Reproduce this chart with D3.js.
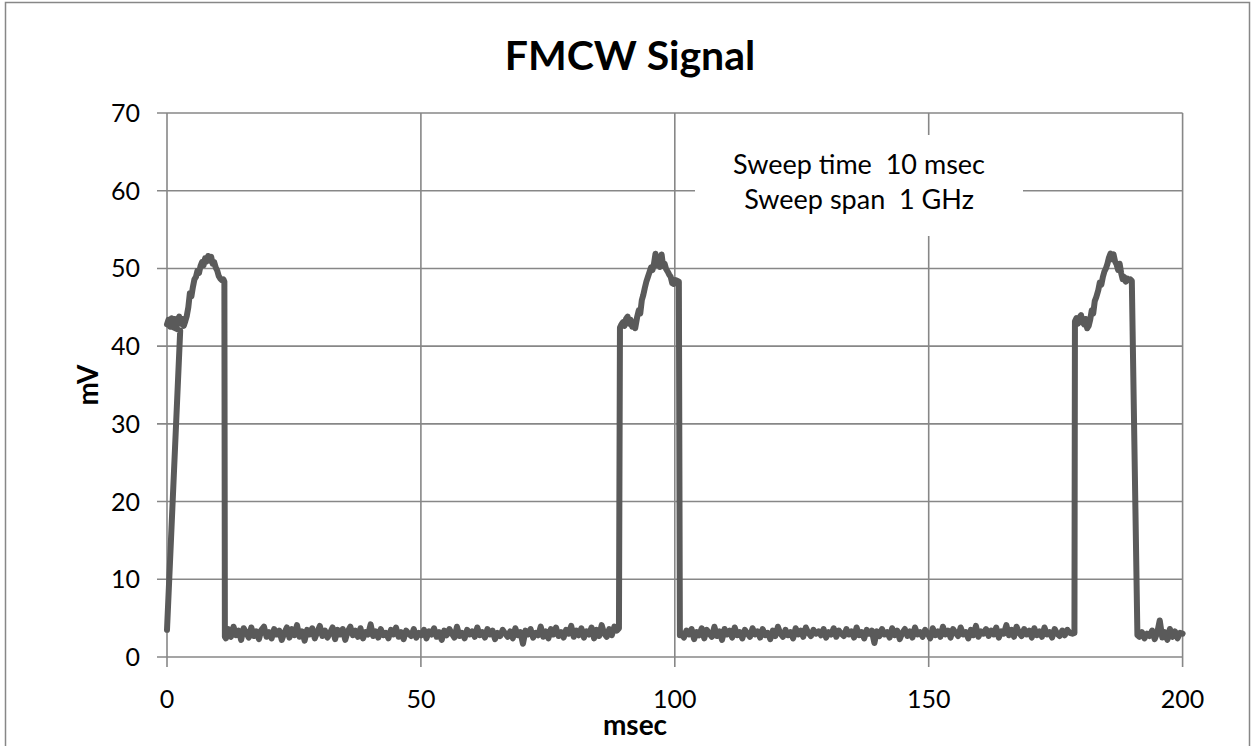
<!DOCTYPE html>
<html><head><meta charset="utf-8">
<script src="https://cdn.jsdelivr.net/npm/d3@7"></script>
<style>body{margin:0;background:#fff} svg{display:block} text{font-family:Lato,"Noto Sans",sans-serif;fill:#000}</style>
</head><body><svg id="c" width="1254" height="746"></svg>
<script>
const title = "FMCW Signal";
const xLabel = "msec";
const yLabel = "mV";
const noteLines = ["Sweep time  10 msec", "Sweep span  1 GHz"];
const xTicks = [0, 50, 100, 150, 200];
const yTicks = [0, 10, 20, 30, 40, 50, 60, 70];

// Pulse 1 (explicit samples: time msec, value mV)
const pulse1T = [0, 2.6, 0.0,0.3,0.6,0.9,1.2,1.5,1.8,2.1,2.4,2.7,3.0,3.3,3.6,3.9,
  4.2,4.5,4.8,5.1,5.4,5.7,6.0,6.3,6.6,6.9,7.2,7.5,7.8,8.1,8.4,8.7,9.0,9.3,9.6,9.9,10.2,10.5,10.8,11.1,11.3,11.4];
const pulse1V = [3.5, 42.0, 42.8,43.4,42.5,43.6,42.7,43.5,42.4,43.3,43.8,42.9,43.5,42.6,43.2,43.9,
  45.0,46.8,46.4,47.6,48.6,48.9,49.7,49.4,50.3,50.8,50.4,51.3,50.9,51.6,51.0,51.5,50.6,50.8,50.1,49.7,49.0,48.7,48.5,48.6,48.3,2.6];

// Baseline noise after pulse 1: starts 11.6 msec, one sample every 0.5 msec
const noise1Start = 11.6;
const noise1 = [
  2.4,3.6,2.6,3.9,2.8,3.4,2.2,3.7,3.1,2.5,3.8,2.7,3.3,2.3,3.5,3.9,2.6,3.2,2.4,3.6,
  2.9,3.4,2.2,3.1,3.8,2.5,3.6,2.8,4.1,2.6,3.3,2.1,3.5,2.9,3.7,2.4,3.2,4.0,2.7,3.4,
  2.5,3.1,3.8,2.3,3.5,2.9,3.6,2.2,3.3,3.9,2.8,3.4,2.6,3.7,2.4,3.2,2.9,4.2,2.7,3.3,
  2.5,3.6,2.8,3.1,2.4,3.5,2.9,3.8,2.6,3.2,2.3,3.4,3.0,2.7,3.6,2.5,3.1,2.8,3.5,2.4,
  3.3,2.9,3.7,2.6,3.2,2.2,3.4,2.8,3.6,3.0,2.5,3.9,2.7,3.1,2.4,3.5,2.9,3.3,2.6,3.8,
  2.8,3.2,2.5,3.6,2.9,3.4,2.3,3.1,2.7,3.5,3.0,2.6,3.3,2.4,3.7,2.8,3.2,1.7,3.4,2.9,
  3.6,2.5,3.1,2.8,3.9,2.6,3.3,2.4,3.6,2.9,3.8,2.7,3.2,2.5,3.5,3.0,4.0,2.6,3.4,2.8,
  3.7,2.5,3.3,2.9,3.8,2.4,3.5,2.7,4.1,3.0,2.6,3.6,2.8,3.9,3.4];

// Pulse 2
const pulse2T = [89.0,89.2,89.5,89.8,90.1,90.4,90.7,91.0,91.3,91.6,91.9,92.2,
  92.6,92.9,93.2,93.5,93.8,94.1,94.4,94.7,95.0,95.3,95.6,95.9,96.2,96.5,96.8,97.1,97.4,97.7,98.0,98.3,
  98.6,98.9,99.2,99.5,99.8,100.1,100.5,100.8,101.0];
const pulse2V = [3.7,42.4,42.8,43.1,42.6,43.5,43.8,42.9,43.4,42.5,42.9,42.3,
  43.8,44.6,44.2,45.9,46.6,47.5,48.3,48.9,49.5,50.1,49.8,50.6,51.9,50.4,50.9,50.2,51.8,50.3,50.6,49.9,
  49.6,49.2,48.9,48.1,48.0,48.5,48.4,48.3,2.8];

// Baseline noise after pulse 2: starts 101.3 msec, every 0.5 msec
const noise2Start = 101.3;
const noise2 = [
  3.1,2.5,3.4,2.9,3.6,2.3,3.2,2.8,3.7,2.4,3.5,3.0,2.6,3.9,2.7,3.3,2.2,3.6,2.9,3.4,
  2.5,3.8,2.8,3.2,2.4,3.5,3.0,2.6,3.7,2.9,3.3,2.5,3.6,2.8,3.1,2.3,3.4,2.7,3.9,3.0,
  2.6,3.5,2.8,3.2,2.4,3.7,2.9,3.4,2.6,3.8,3.1,2.7,3.5,3.0,3.3,2.8,3.6,2.5,3.2,2.9,
  3.7,2.6,3.4,3.0,2.7,3.6,2.9,3.3,2.5,3.8,2.8,3.2,2.4,3.5,3.0,3.4,1.8,3.3,2.7,3.6,
  2.9,3.2,2.5,3.7,2.8,3.4,2.3,3.1,3.6,2.7,3.3,2.5,3.8,2.9,3.2,2.6,3.5,3.0,2.4,3.7,
  2.8,3.3,2.6,3.9,2.9,3.4,2.5,3.6,3.1,2.7,3.8,2.9,3.2,2.4,3.5,2.8,4.0,2.6,3.3,3.0,
  3.6,2.7,3.4,2.9,3.8,2.5,3.3,3.0,4.1,2.8,3.5,2.6,3.9,3.1,2.7,3.6,2.9,3.4,2.5,3.7,
  2.8,3.3,2.6,3.8,2.9,3.2,2.5,3.6,3.0,2.7,3.4,2.8,3.5,3.1,3.0];

// Pulse 3
const pulse3T = [178.7,178.8,179.1,179.4,179.7,180.0,180.3,180.6,180.9,181.2,181.5,
  181.8,182.1,182.4,182.7,183.0,183.4,183.7,184.0,184.3,184.6,184.9,185.2,185.5,185.8,186.1,186.4,186.7,
  187.0,187.3,187.6,187.9,188.2,188.5,188.8,189.1,189.4,189.7,190.0,191.1];
const pulse3V = [3.1,43.2,43.6,42.9,43.7,44.0,43.1,42.8,43.5,42.3,42.6,
  43.4,44.6,44.2,45.8,46.3,47.2,48.2,47.9,48.9,49.6,50.0,50.6,51.4,51.9,51.2,51.8,50.9,
  50.5,49.8,50.6,49.4,48.6,48.9,48.3,48.7,48.5,48.6,48.4,2.8];

// Baseline noise after pulse 3: starts 191.5 msec, every 0.5 msec
const noise3Start = 191.5;
const noise3 = [2.6,3.2,2.4,3.0,2.7,3.4,2.3,3.1,4.7,2.5,3.2,2.2,3.6,2.6,3.3,2.4,3.1,3.0];

const noiseStep = 0.5;

function pairs(T, V) { return T.map((t, i) => [t, V[i]]); }
function noisePairs(start, V) { return V.map((v, i) => [start + i * noiseStep, v]); }
const series = [].concat(
  pairs(pulse1T, pulse1V), noisePairs(noise1Start, noise1),
  pairs(pulse2T, pulse2V), noisePairs(noise2Start, noise2),
  pairs(pulse3T, pulse3V), noisePairs(noise3Start, noise3));

const svg = d3.select("#c");
const gridColor = "#878787";
const x = d3.scaleLinear().domain([0, 200]).range([167, 1182.6]);
const y = d3.scaleLinear().domain([0, 70]).range([657, 113]);

// chart frame
svg.append("rect").attr("x", 5.5).attr("y", 2.5).attr("width", 1244).attr("height", 750)
  .attr("fill", "none").attr("stroke", gridColor).attr("stroke-width", 1.5);

// gridlines
const grid = svg.append("g");
grid.selectAll("line.h").data(yTicks).join("line")
  .attr("x1", x(0) - 10).attr("x2", x(200)).attr("y1", d => y(d)).attr("y2", d => y(d))
  .attr("stroke", gridColor).attr("stroke-width", 1.6);
grid.selectAll("line.v").data(xTicks).join("line")
  .attr("x1", d => x(d)).attr("x2", d => x(d)).attr("y1", y(70)).attr("y2", y(0) + 10)
  .attr("stroke", gridColor).attr("stroke-width", 1.6);

// annotation box
svg.append("rect").attr("x", 695).attr("y", 135).attr("width", 328).attr("height", 101).attr("fill", "#fff");
svg.append("g").selectAll("text").data(noteLines).join("text")
  .attr("x", 859).attr("y", (d, i) => 174 + i * 35)
  .attr("text-anchor", "middle").attr("font-size", 27).attr("xml:space", "preserve")
  .style("white-space", "pre").text(d => d);

// signal line
const line = d3.line().x(d => x(d[0])).y(d => y(d[1]));
svg.append("path").datum(series).attr("d", line)
  .attr("fill", "none").attr("stroke", "#5a5a5a").attr("stroke-width", 6)
  .attr("stroke-linejoin", "round").attr("stroke-linecap", "round");

// tick labels
svg.append("g").selectAll("text").data(yTicks).join("text")
  .attr("x", 140).attr("y", d => y(d) + 9).attr("text-anchor", "end")
  .attr("font-size", 25).text(d => d);
svg.append("g").selectAll("text").data(xTicks).join("text")
  .attr("x", d => x(d)).attr("y", 708).attr("text-anchor", "middle")
  .attr("font-size", 25).text(d => d);

// titles
svg.append("text").attr("x", 630).attr("y", 70).attr("text-anchor", "middle")
  .attr("font-size", 41).attr("font-weight", "bold").text(title);
svg.append("text").attr("x", 635).attr("y", 735).attr("text-anchor", "middle")
  .attr("font-size", 28).attr("font-weight", "bold").text(xLabel);
svg.append("text").attr("transform", "translate(98,385) rotate(-90)").attr("text-anchor", "middle")
  .attr("font-size", 28).attr("font-weight", "bold").text(yLabel);
</script></body></html>
